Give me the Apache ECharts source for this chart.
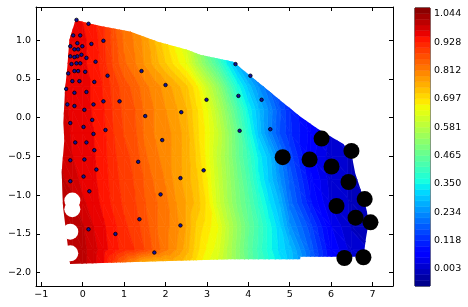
<!DOCTYPE html>
<html><head><meta charset="utf-8">
<script src="https://cdn.jsdelivr.net/npm/echarts@6.0.0/dist/echarts.min.js"></script>
<style>html,body{margin:0;padding:0;background:#fff}#c{width:468px;height:307px}</style>
</head><body><div id="c"></div>
<script>
// ---- data ----
const xNodes = [-0.75,-0.5,-0.25,0,0.25,0.5,0.75,1.0,1.25,1.5,1.75,2.0,2.25,2.5,2.75,3.0,3.25,3.5,3.75,4.0,4.25,4.5,4.75,5.0,5.5,6.0,6.5,7.0,7.5];
const yNodes = [1.3,1.0,0.7,0.4,0.1,-0.2,-0.5,-0.8,-1.1,-1.4,-1.7,-1.9];
const z_y1p3  = [0.96,0.96,0.955,0.95,0.935,0.91,0.86,0.82,0.79,0.76,0.72,0.68,0.63,0.57,0.49,0.40,0.31,0.24,0.18,0.13,0.10,0.07,0.05,0.04,0.03,0.02,0.02,0.02,0.02];
const z_y1p0  = [0.97,0.965,0.96,0.955,0.945,0.91,0.87,0.83,0.81,0.78,0.74,0.70,0.66,0.61,0.53,0.44,0.35,0.27,0.20,0.15,0.11,0.08,0.06,0.05,0.03,0.02,0.02,0.02,0.02];
const z_y0p7  = [0.975,0.97,0.96,0.955,0.945,0.915,0.875,0.84,0.815,0.785,0.755,0.72,0.685,0.65,0.57,0.50,0.43,0.34,0.27,0.21,0.16,0.12,0.09,0.07,0.04,0.02,0.015,0.01,0.01];
const z_y0p4  = [0.985,0.98,0.965,0.955,0.95,0.925,0.895,0.87,0.85,0.82,0.80,0.78,0.755,0.725,0.68,0.61,0.54,0.45,0.36,0.295,0.235,0.185,0.145,0.11,0.05,0.02,0.015,0.01,0.01];
const z_y0p1  = [0.99,0.99,0.965,0.958,0.95,0.93,0.90,0.875,0.86,0.83,0.81,0.79,0.77,0.745,0.70,0.655,0.585,0.51,0.43,0.345,0.285,0.23,0.17,0.12,0.05,0.02,0.01,0.01,0.01];
const z_ym0p2 = [0.99,0.99,0.97,0.96,0.952,0.935,0.905,0.88,0.865,0.83,0.81,0.80,0.78,0.755,0.705,0.665,0.61,0.54,0.465,0.375,0.295,0.225,0.165,0.125,0.065,0.02,0.005,0.0,0.0];
const z_ym0p5 = [0.995,0.995,0.975,0.962,0.955,0.937,0.91,0.89,0.875,0.84,0.82,0.80,0.78,0.755,0.715,0.665,0.60,0.54,0.47,0.41,0.34,0.29,0.22,0.155,0.06,0.015,0.0,0.0,0.0];
const z_ym0p8 = [1.0,1.0,0.99,0.965,0.957,0.94,0.915,0.895,0.88,0.855,0.83,0.81,0.78,0.755,0.725,0.675,0.61,0.55,0.49,0.43,0.355,0.30,0.24,0.18,0.08,0.015,0.0,0.0,0.0];
const z_ym1p1 = [1.01,1.01,1.005,0.98,0.962,0.945,0.92,0.90,0.885,0.86,0.84,0.82,0.79,0.765,0.735,0.69,0.62,0.56,0.50,0.45,0.39,0.33,0.28,0.20,0.10,0.02,0.0,0.0,0.0];
const z_ym1p4 = [1.015,1.015,1.015,1.0,0.975,0.955,0.935,0.91,0.895,0.87,0.84,0.82,0.80,0.765,0.715,0.685,0.655,0.59,0.53,0.47,0.42,0.36,0.31,0.24,0.15,0.05,0.0,0.0,0.0];
const z_ym1p7 = [1.015,1.015,1.015,1.005,0.985,0.96,0.94,0.915,0.905,0.88,0.85,0.82,0.79,0.755,0.705,0.67,0.64,0.58,0.52,0.46,0.41,0.36,0.32,0.29,0.18,0.07,0.015,0.0,0.0];
const z_ym1p9 = [1.015,1.015,1.015,1.005,0.985,0.95,0.89,0.83,0.78,0.73,0.72,0.73,0.74,0.72,0.69,0.65,0.62,0.57,0.52,0.47,0.42,0.38,0.34,0.30,0.20,0.08,0.02,0.0,0.0];
const zGrid = [z_y1p3,z_y1p0,z_y0p7,z_y0p4,z_y0p1,z_ym0p2,z_ym0p5,z_ym0p8,z_ym1p1,z_ym1p4,z_ym1p7,z_ym1p9];

// outline of the filled region
const hullX = [-0.154,0.136,0.491,1.144,1.797,2.522,2.836,3.634,4.044,4.448,4.849,5.253,5.656,6.058,6.299,6.502,6.582,6.662,6.783,6.865,6.903,6.841,6.783,5.253,5.253,3.561,1.458,-0.306,-0.474,-0.507,-0.444,-0.468,-0.427,-0.371,-0.323,-0.185];
const hullY = [1.258,1.217,1.176,1.111,0.982,0.875,0.810,0.720,0.539,0.367,0.187,0.014,-0.136,-0.265,-0.339,-0.503,-0.717,-0.846,-1.039,-1.212,-1.362,-1.556,-1.793,-1.793,-1.827,-1.827,-1.858,-1.888,-1.158,-0.700,-0.287,-0.071,0.358,0.659,1.004,1.240];

// small scatter points
const smallX = [-0.15,0.14,-0.23,-0.06,0.50,0.21,-0.13,-0.30,-0.01,-0.20,-0.11,-0.03,-0.13,-0.20,-0.30,0.09,0.31,-0.06,-0.15,-0.27,-0.20,-0.11,0.06,-0.35,0.60,-0.25,-0.08,0.28,1.42,2.00,-0.40,-0.20,0.09,2.99,0.50,0.89,-0.37,-0.20,0.26,0.04,1.51,2.38,0.23,-0.30,0.02,0.55,0.26,1.92,-0.18,0.09,0.28,-0.30,0.04,1.34,0.33,0.02,-0.30,2.92,2.36,0.16,1.88,1.37,2.36,0.14,0.79,1.73,3.69,4.05,3.76,4.32,3.79,4.53];
const smallY = [1.26,1.21,1.06,1.06,0.99,0.95,0.96,0.92,0.92,0.88,0.88,0.81,0.79,0.78,0.79,0.77,0.72,0.70,0.70,0.69,0.60,0.60,0.59,0.57,0.54,0.47,0.47,0.46,0.60,0.42,0.37,0.32,0.33,0.23,0.21,0.21,0.17,0.15,0.17,0.10,0.02,0.07,-0.03,-0.07,-0.12,-0.16,-0.21,-0.29,-0.32,-0.32,-0.42,-0.55,-0.54,-0.57,-0.67,-0.76,-0.82,-0.68,-0.78,-0.95,-0.99,-1.31,-1.39,-1.44,-1.50,-1.74,0.69,0.54,0.28,0.23,-0.17,-0.15];
// large black markers
const bigX = [5.77,6.49,4.83,5.48,6.01,6.42,6.81,6.13,6.59,6.95,6.32,6.78];
const bigY = [-0.27,-0.43,-0.51,-0.54,-0.63,-0.83,-1.05,-1.14,-1.29,-1.35,-1.81,-1.80];
// large white markers
const whiteX = [-0.25,-0.25,-0.30,-0.30];
const whiteY = [-1.07,-1.18,-1.47,-1.75];

// axis ticks
const xTicks = [-1,0,1,2,3,4,5,6,7];
const yTicks = [-2.0,-1.5,-1.0,-0.5,0.0,0.5,1.0];
const cbTicks = [0.003,0.118,0.234,0.350,0.465,0.581,0.697,0.812,0.928,1.044];

// ---- colour scale (49 contour bands) ----
const nBands = 49;
const step = (cbTicks[cbTicks.length-1]-cbTicks[0])/45;
const L0 = cbTicks[0]-3*step;
const Ltop = L0 + nBands*step;
const JET = {
  r: [[0,0],[0.35,0],[0.66,1],[0.89,1],[1,0.5]],
  g: [[0,0],[0.125,0],[0.375,1],[0.64,1],[0.91,0],[1,0]],
  b: [[0,0.5],[0.11,1],[0.34,1],[0.65,0],[1,0]]
};
function seg(s,t){for(let i=1;i<s.length;i++){if(t<=s[i][0]){const a=s[i-1],b=s[i];return a[1]+(b[1]-a[1])*(t-a[0])/(b[0]-a[0]);}}return s[s.length-1][1];}
function jet(t){t=Math.max(0,Math.min(1,t));return 'rgb('+Math.round(255*seg(JET.r,t))+','+Math.round(255*seg(JET.g,t))+','+Math.round(255*seg(JET.b,t))+')';}
const bandColor = [];
for(let k=0;k<nBands;k++) bandColor.push(jet((k+0.5)/nBands));

function clipPoly(poly, level, keepAbove){
  const out=[];
  for(let i=0;i<poly.length;i++){
    const a=poly[i], b=poly[(i+1)%poly.length];
    const ina = keepAbove ? a[2]>=level : a[2]<=level;
    const inb = keepAbove ? b[2]>=level : b[2]<=level;
    if(ina) out.push(a);
    if(ina!==inb){const t=(level-a[2])/(b[2]-a[2]);out.push([a[0]+t*(b[0]-a[0]),a[1]+t*(b[1]-a[1]),level]);}
  }
  return out;
}

const cellData=[];
for(let j=0;j<yNodes.length-1;j++){
  for(let i=0;i<xNodes.length-1;i++){
    cellData.push([(xNodes[i]+xNodes[i+1])/2,(yNodes[j]+yNodes[j+1])/2,i,j]);
  }
}
const bandData=[];
for(let k=0;k<nBands;k++) bandData.push([0.5, L0+(k+0.5)*step, k]);

const X_MIN=-1.128, X_MAX=7.494, Y_MIN=-2.171, Y_MAX=1.426;
const FONT='DejaVu Sans';
function fmtX(v){return (v<0?'\u2212':'')+Math.abs(v);}
function fmtY(v){return (v<0?'\u2212':'')+Math.abs(v).toFixed(1);}
const axLine={onZero:false,lineStyle:{color:'#000',width:1}};

const chart = echarts.init(document.getElementById('c'),null,{renderer:'canvas'});
chart.setOption({
  animation:false,
  backgroundColor:'#fff',
  grid:[
    {left:36,top:7,width:357,height:279},
    {left:415,top:8,width:15,height:278,show:true,borderColor:'#000',borderWidth:1,backgroundColor:'transparent'}
  ],
  xAxis:[
    {gridIndex:0,type:'value',min:X_MIN,max:X_MAX,position:'bottom',axisLine:axLine,
     axisTick:{inside:true,length:4,customValues:xTicks,lineStyle:{color:'#000'}},
     axisLabel:{customValues:xTicks,formatter:fmtX,color:'#000',fontSize:9.5,fontFamily:FONT,margin:4},splitLine:{show:false}},
    {gridIndex:0,type:'value',min:X_MIN,max:X_MAX,position:'top',axisLine:axLine,
     axisTick:{inside:true,length:4,customValues:xTicks,lineStyle:{color:'#000'}},
     axisLabel:{show:false},splitLine:{show:false}},
    {gridIndex:1,type:'value',min:0,max:1,show:false}
  ],
  yAxis:[
    {gridIndex:0,type:'value',min:Y_MIN,max:Y_MAX,position:'left',axisLine:axLine,
     axisTick:{inside:true,length:4,customValues:yTicks,lineStyle:{color:'#000'}},
     axisLabel:{customValues:yTicks,formatter:fmtY,color:'#000',fontSize:9.5,fontFamily:FONT,margin:5},splitLine:{show:false}},
    {gridIndex:0,type:'value',min:Y_MIN,max:Y_MAX,position:'right',axisLine:axLine,
     axisTick:{inside:true,length:4,customValues:yTicks,lineStyle:{color:'#000'}},
     axisLabel:{show:false},splitLine:{show:false}},
    {gridIndex:1,type:'value',min:L0,max:Ltop,position:'right',axisLine:{show:false},axisTick:{show:false},
     axisLabel:{customValues:cbTicks,formatter:function(v){return v.toFixed(3);},color:'#000',fontSize:9.5,fontFamily:FONT,margin:4},
     splitLine:{show:false}}
  ],
  series:[
    {type:'custom',coordinateSystem:'cartesian2d',xAxisIndex:0,yAxisIndex:0,silent:true,z:1,
     encode:{x:0,y:1},data:cellData,
     renderItem:function(params,api){
       const i=api.value(2), j=api.value(3);
       const p=[[xNodes[i],yNodes[j],zGrid[j][i]],[xNodes[i+1],yNodes[j],zGrid[j][i+1]],
                [xNodes[i+1],yNodes[j+1],zGrid[j+1][i+1]],[xNodes[i],yNodes[j+1],zGrid[j+1][i]]];
       const tris=[[p[0],p[1],p[2]],[p[0],p[2],p[3]]];
       const children=[];
       tris.forEach(function(tri){
         const zs=tri.map(function(v){return v[2];});
         const kmin=Math.max(0,Math.floor((Math.min.apply(null,zs)-L0)/step));
         const kmax=Math.min(nBands-1,Math.floor((Math.max.apply(null,zs)-L0)/step));
         for(let k=kmin;k<=kmax;k++){
           let poly=clipPoly(tri,L0+k*step,true);
           if(poly.length<3) continue;
           poly=clipPoly(poly,L0+(k+1)*step,false);
           if(poly.length<3) continue;
           const pts=poly.map(function(v){return api.coord([v[0],v[1]]);});
           children.push({type:'polygon',shape:{points:pts},style:{fill:bandColor[k],stroke:bandColor[k],lineWidth:0.7}});
         }
       });
       const hullPx=hullX.map(function(x,n){return api.coord([x,hullY[n]]);});
       return {type:'group',children:children,clipPath:{type:'polygon',shape:{points:hullPx}}};
     }},
    {type:'scatter',xAxisIndex:0,yAxisIndex:0,z:3,silent:true,symbol:'circle',symbolSize:16,
     itemStyle:{color:'#fff',opacity:1},data:whiteX.map(function(x,n){return [x,whiteY[n]];})},
    {type:'scatter',xAxisIndex:0,yAxisIndex:0,z:4,silent:true,symbol:'circle',symbolSize:16,
     itemStyle:{color:'#000',opacity:1},data:bigX.map(function(x,n){return [x,bigY[n]];})},
    {type:'scatter',xAxisIndex:0,yAxisIndex:0,z:5,silent:true,symbol:'circle',symbolSize:3.5,
     itemStyle:{color:'#1010a0',borderColor:'#000',borderWidth:0.8,opacity:1},data:smallX.map(function(x,n){return [x,smallY[n]];})},
    {type:'custom',coordinateSystem:'cartesian2d',xAxisIndex:2,yAxisIndex:2,silent:true,z:1,
     encode:{x:0,y:1},data:bandData,
     renderItem:function(params,api){
       const k=api.value(2);
       const a=api.coord([0,L0+(k+1)*step]), b=api.coord([1,L0+k*step]);
       return {type:'rect',shape:{x:a[0],y:a[1],width:b[0]-a[0],height:b[1]-a[1]},
               style:{fill:bandColor[k],stroke:bandColor[k],lineWidth:0.5}};
     }}
  ]
});
</script></body></html>
